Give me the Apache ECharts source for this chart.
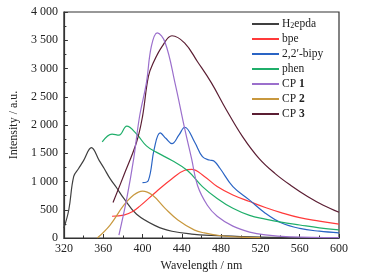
<!DOCTYPE html>
<html>
<head>
<meta charset="utf-8">
<script src="https://cdn.jsdelivr.net/npm/echarts@6/dist/echarts.min.js"></script>
<style>
  html, body { margin: 0; padding: 0; background: #fff; }
  #chart { width: 380px; height: 277px; }
</style>
</head>
<body>
<div id="chart"></div>
<script>
// emission spectra
const seriesNames = ['H2epda', 'bpe', 'bipy', 'phen', 'CP1', 'CP2', 'CP3'];
const colors = ['#3f3f3f', '#ff3a3a', '#2a64c4', '#1fae6a', '#9b6fcc', '#c8983e', '#5b1e33'];

const h2epdaX = [320, 325, 330, 335, 340, 348, 356, 361, 367, 374, 381, 394, 414, 430, 450, 470, 500, 540, 600];
const h2epdaY = [175, 500, 1090, 1230, 1370, 1600, 1370, 1230, 1050, 880, 700, 420, 210, 120, 70, 45, 25, 10, 5];

const bpeX = [369, 381, 390, 397, 414, 430, 443, 450, 463, 476, 492, 509, 525, 541, 560, 580, 600];
const bpeY = [385, 405, 470, 560, 820, 1050, 1200, 1215, 1090, 910, 760, 645, 540, 450, 360, 300, 245];

const bipyX = [400, 406, 412, 418, 424, 430, 437, 443, 453, 461, 468, 473, 479, 492, 509, 525, 541, 560, 580, 600];
const bipyY = [980, 1020, 1580, 1860, 1760, 1670, 1820, 1960, 1700, 1440, 1380, 1360, 1230, 910, 670, 440, 270, 170, 120, 90];

const phenX = [359, 369, 376, 384, 394, 404, 414, 430, 446, 461, 476, 492, 509, 525, 541, 560, 580, 600];
const phenY = [1700, 1840, 1820, 1980, 1840, 1630, 1520, 1370, 1190, 910, 700, 525, 400, 335, 280, 230, 180, 145];

const cp1X = [376, 384, 391, 397, 404, 409, 415, 423, 433, 443, 450, 456, 466, 476, 492, 509, 525, 550, 600];
const cp1Y = [50, 700, 1400, 2150, 2750, 3390, 3630, 3460, 2750, 1930, 1400, 930, 580, 385, 210, 105, 55, 20, 5];

const cp2X = [354, 367, 381, 391, 400, 410, 423, 436, 453, 463, 480, 500, 520];
const cp2Y = [0, 230, 580, 760, 830, 760, 525, 320, 140, 90, 40, 15, 5];

const cp3X = [370, 381, 394, 400, 406, 411, 420, 430, 443, 456, 470, 485, 502, 519, 535, 551, 568, 584, 600];
const cp3Y = [630, 1110, 1700, 2150, 2860, 3100, 3390, 3580, 3450, 3120, 2750, 2280, 1790, 1400, 1140, 930, 735, 580, 455];

const xTicks = [320, 600, 40];
const yTicks = [0, 4000, 500];

const legendLabels = {
  H2epda: '{n|H}{sub|2}{n|epda}',
  bpe: '{n|bpe}',
  bipy: '{n|2,2\u2032-bipy}',
  phen: '{n|phen}',
  CP1: '{n|CP }{b|1}',
  CP2: '{n|CP }{b|2}',
  CP3: '{n|CP }{b|3}'
};

function zip(xs, ys) {
  return xs.map((x, i) => [x, ys[i]]);
}
const allData = [
  zip(h2epdaX, h2epdaY), zip(bpeX, bpeY), zip(bipyX, bipyY), zip(phenX, phenY),
  zip(cp1X, cp1Y), zip(cp2X, cp2Y), zip(cp3X, cp3Y)
];

function thousands(v) {
  let s = String(v);
  if (v >= 1000) s = s.slice(0, s.length - 3) + ' ' + s.slice(-3);
  return s;
}

const font = 'Liberation Serif';
const chart = echarts.init(document.getElementById('chart'), null, { renderer: 'canvas' });

chart.setOption({
  animation: false,
  textStyle: { fontFamily: font },
  grid: {
    left: 55, right: 41, top: 12, bottom: 37,
    show: true, borderColor: '#333', borderWidth: 1.2, backgroundColor: 'transparent'
  },
  legend: {
    orient: 'vertical',
    left: 252, top: 17, padding: 0,
    itemWidth: 27, itemHeight: 2, itemGap: 3,
    icon: 'rect',
    data: seriesNames,
    formatter: name => legendLabels[name],
    textStyle: {
      fontFamily: font, color: '#222', padding: [0, 0, 0, -2], lineHeight: 12,
      rich: {
        n: { fontFamily: font, fontSize: 11.5, color: '#222', lineHeight: 12 },
        sub: { fontFamily: font, fontSize: 8, color: '#222', verticalAlign: 'bottom', lineHeight: 12, padding: [5, 0, 0, 0] },
        b: { fontFamily: font, fontSize: 11.5, fontWeight: 'bold', color: '#222', lineHeight: 12 }
      }
    }
  },
  xAxis: {
    type: 'value',
    min: xTicks[0], max: xTicks[1], interval: xTicks[2],
    name: 'Wavelength / nm',
    nameLocation: 'middle', nameGap: 22,
    nameTextStyle: { fontFamily: font, fontSize: 12, color: '#222' },
    axisLine: { lineStyle: { color: '#333', width: 1.2 } },
    axisTick: { inside: true, length: 4, lineStyle: { color: '#333' } },
    minorTick: { show: true, splitNumber: 2, length: 2.5, lineStyle: { color: '#333' } },
    splitLine: { show: false },
    axisLabel: { fontFamily: font, fontSize: 12, color: '#222', margin: 5 }
  },
  yAxis: {
    type: 'value',
    min: yTicks[0], max: yTicks[1], interval: yTicks[2],
    name: 'Intensity / a.u.',
    nameLocation: 'middle', nameGap: 41, nameRotate: 90,
    nameTextStyle: { fontFamily: font, fontSize: 12, color: '#222' },
    axisLine: { show: true, lineStyle: { color: '#333', width: 1.2 } },
    axisTick: { inside: true, length: 4, lineStyle: { color: '#333' } },
    minorTick: { show: true, splitNumber: 2, length: 2.5, lineStyle: { color: '#333' } },
    splitLine: { show: false },
    axisLabel: { fontFamily: font, fontSize: 12, color: '#222', margin: 6, formatter: thousands }
  },
  series: seriesNames.map((name, i) => ({
    name: name,
    type: 'line',
    smooth: 0.4,
    showSymbol: false,
    symbol: 'none',
    data: allData[i],
    itemStyle: { color: colors[i] },
    lineStyle: { color: colors[i], width: 1.2 },
    z: i === 4 ? 3 : 2
  }))
});
</script>
</body>
</html>
